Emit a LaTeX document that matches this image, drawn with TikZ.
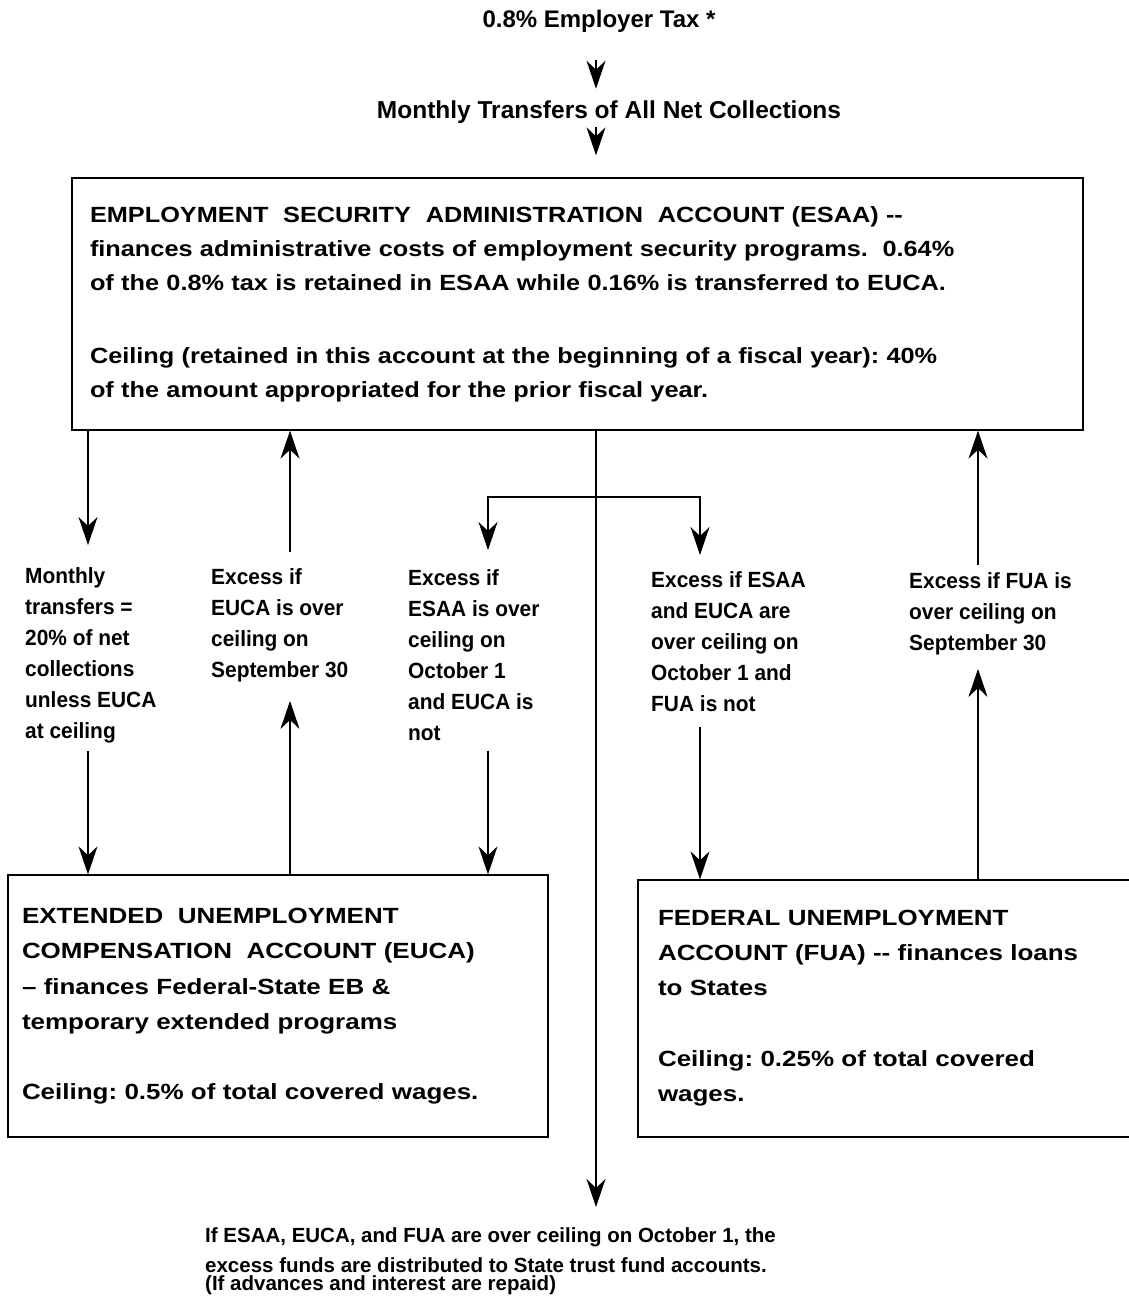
\documentclass[tikz,border=0pt]{standalone}
\usepackage{fontspec}
\setmainfont{Liberation Sans}
\newfontfamily\widesans[FakeStretch=1.15]{Liberation Sans}
\newfontfamily\widersans[FakeStretch=1.18]{Liberation Sans}
\newfontfamily\tightsans[FakeStretch=0.95]{Liberation Sans}
\usetikzlibrary{arrows.meta,positioning}
\frenchspacing

\begin{document}
\begin{tikzpicture}[x=1pt,y=-1pt,
    arr/.style={-{Stealth[length=28pt,width=19pt,inset=9pt]},line width=1.2pt},
    acct/.style={draw,line width=1.3pt,rectangle,align=left,inner ysep=0pt},
    note/.style={anchor=north west,align=left,inner sep=0pt,
        font=\tightsans\bfseries\fontsize{22}{31}\selectfont}]
            \useasboundingbox (0,0) rectangle (1129,1301);

            \node[anchor=base,font=\bfseries\fontsize{24}{30}\selectfont] (tax) at (599,27) {0.8\% Employer Tax *};
            \node[anchor=base,font=\bfseries\fontsize{24.5}{30}\selectfont] (xfer) at (609,118) {Monthly Transfers of All Net Collections};

            \node[acct,text width=975pt,inner xsep=18pt,minimum height=252pt,
                font=\widesans\bfseries\fontsize{22}{34}\selectfont] (esaa) at (577.5,304)
                {EMPLOYMENT\ \ SECURITY\ \ ADMINISTRATION\ \ ACCOUNT (ESAA) -{}-\\
                 finances administrative costs of employment security programs.\ \ 0.64\%\\
                 of the 0.8\% tax is retained in ESAA while 0.16\% is transferred to EUCA.\\[39pt]
                 Ceiling (retained in this account at the beginning of a fiscal year): 40\%\\
                 of the amount appropriated for the prior fiscal year.};

            \node[acct,text width=512pt,inner xsep=14pt,minimum height=262pt,
                font=\widersans\bfseries\fontsize{22}{35.5}\selectfont] (euca) at (278,1006)
                {EXTENDED\ \ UNEMPLOYMENT\\
                 COMPENSATION\ \ ACCOUNT (EUCA)\\
                 \textendash\ finances Federal-State EB \&\\
                 temporary extended programs\\[34.5pt]
                 Ceiling: 0.5\% of total covered wages.};

            \node[acct,text width=454pt,inner xsep=20pt,minimum height=257pt,
                font=\widersans\bfseries\fontsize{22}{35}\selectfont] (fua) at (885,1008.5)
                {FEDERAL UNEMPLOYMENT\\
                 ACCOUNT (FUA) -{}- finances loans\\
                 to States\\[36pt]
                 Ceiling: 0.25\% of total covered\\
                 wages.};

            \node[note] (lblA) at (25,567) {Monthly\\ transfers =\\ 20\% of net\\ collections\\ unless EUCA\\ at ceiling};
            \node[note] (lblB) at (211,568) {Excess if\\ EUCA is over\\ ceiling on\\ September 30};
            \node[note] (lblC) at (408,569) {Excess if\\ ESAA is over\\ ceiling on\\ October 1\\ and EUCA is\\ not};
            \node[note] (lblD) at (651,571) {Excess if ESAA\\ and EUCA are\\ over ceiling on\\ October 1 and\\ FUA is not};
            \node[note] (lblE) at (909,572) {Excess if FUA is\\ over ceiling on\\ September 30};

            \node[anchor=north west,align=left,inner sep=0pt,font=\bfseries\fontsize{20.5}{30}\selectfont] (dist) at (205,1227)
                {If ESAA, EUCA, and FUA are over ceiling on October 1, the\\
                 excess funds are distributed to State trust fund accounts.\\[-12pt]
                 (If advances and interest are repaid)};

            \coordinate (xA) at (88,0);
            \coordinate (xB) at (290,0);
            \coordinate (xC) at (596,0);
            \coordinate (xL) at (488,0);
            \coordinate (xR) at (700,0);
            \coordinate (xE) at (978,0);
            \coordinate (fork) at (596,497);

            \draw[arr,shorten <=24pt,shorten >=8pt] (tax.south -| xC) -- (xfer.north -| xC);
            \draw[arr,shorten >=22pt] (xfer.south -| xC) -- (esaa.north -| xC);

            \draw[arr,shorten >=22pt] (esaa.south -| xA) -- (lblA.north -| xA);
            \draw[arr,shorten <=8pt] (lblA.south -| xA) -- (euca.north -| xA);

            \draw[arr,shorten <=16pt] (lblB.north -| xB) -- (esaa.south -| xB);
            \draw[arr,shorten >=19pt] (euca.north -| xB) -- (lblB.south -| xB);

            \draw[arr,shorten >=20pt] (esaa.south -| xC) -- (dist.north -| xC);
            \draw[arr,shorten >=19pt] (fork) -| (lblC.north -| xL);
            \draw[arr,shorten >=16pt] (fork) -| (lblD.north -| xR);
            \draw[arr,shorten <=10pt] (lblC.south -| xL) -- (euca.north -| xL);
            \draw[arr,shorten <=15pt] (lblD.south -| xR) -- (fua.north -| xR);

            \draw[arr,shorten <=7pt] (lblE.north -| xE) -- (esaa.south -| xE);
            \draw[arr,shorten >=14pt] (fua.north -| xE) -- (lblE.south -| xE);
        \end{tikzpicture}
\end{document}
